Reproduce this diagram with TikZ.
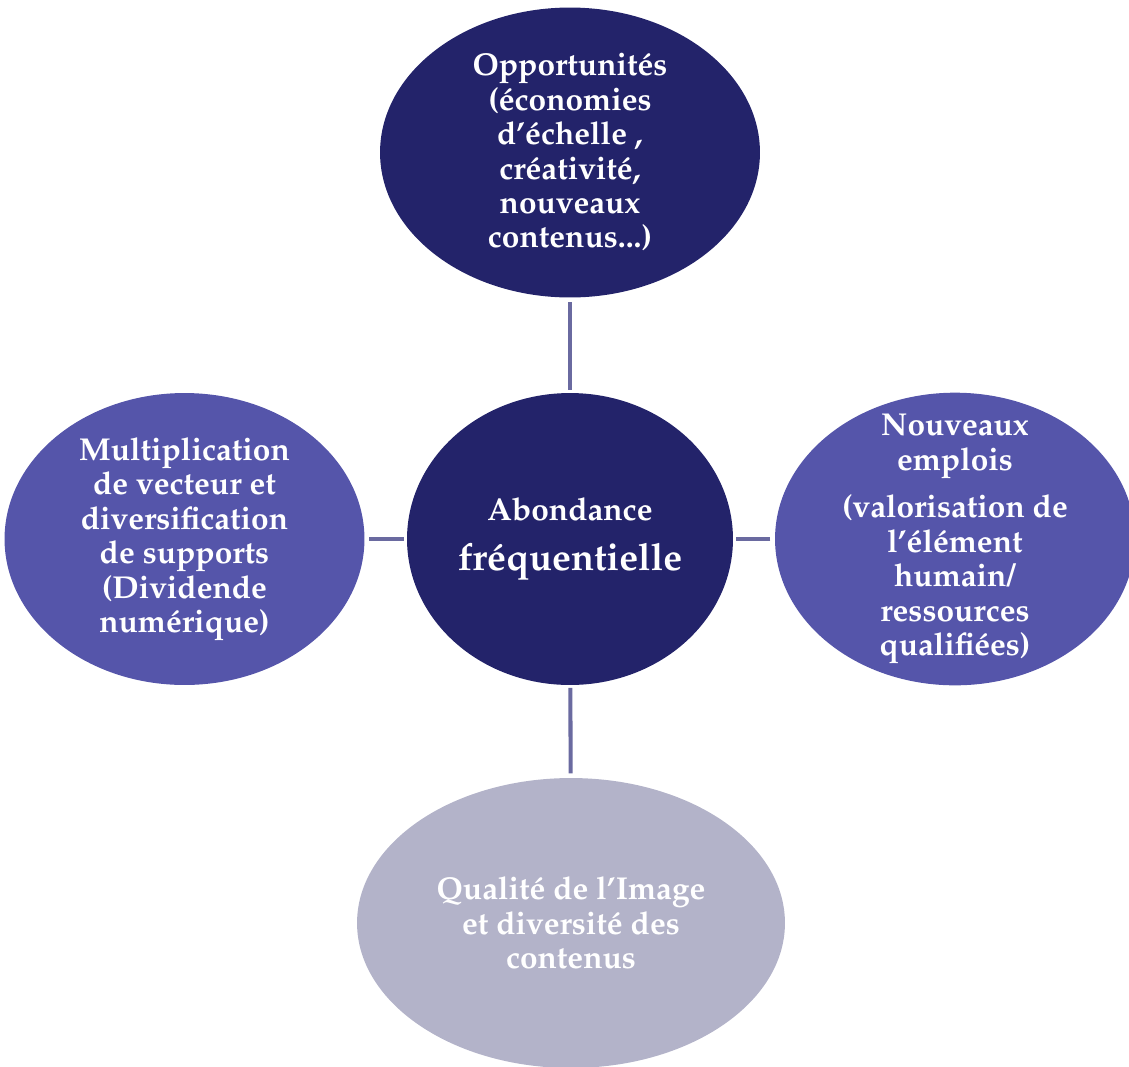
\documentclass[tikz,border=0pt]{standalone}
\usepackage[T1]{fontenc}
\usepackage{mathpazo}
\usetikzlibrary{shapes.geometric}
\definecolor{darkblob}{HTML}{23236A}
\definecolor{midblob}{HTML}{5555AA}
\definecolor{greyblob}{HTML}{B3B3C9}
\definecolor{linkcol}{HTML}{6A6AA0}
\tikzstyle{blob} = [ellipse, text=white, align=center, inner sep=-1.2em,
  font=\bfseries\fontsize{18}{19.6}\selectfont]
\tikzstyle{link} = [draw=linkcol, line width=2.3pt, shorten <=2.5pt, shorten >=1.5pt]

\begin{document}
\begin{tikzpicture}[x=0.02cm, y=-0.02cm]
  \clip (0,0) rectangle (1129,1066);
  \node (a) at (570,539) [blob, fill=darkblob, minimum width=6.52cm, minimum height=5.84cm]
    {Abondance\\[9pt]{\fontsize{21.5}{22}\selectfont fréquentielle}};
  \node (b) at (570,152.5) [blob, fill=darkblob, minimum width=7.6cm, minimum height=5.8cm]
    {Opportunités\\(économies\\d'échelle ,\\créativité,\\nouveaux\\contenus...)};
  \node (c) at (184.5,539) [blob, fill=midblob, minimum width=7.2cm, minimum height=5.84cm]
    {Multiplication\\de vecteur et\\diversification\\de supports\\(Dividende\\numérique)};
  \node (d) at (955,539) [blob, fill=midblob, minimum width=7.2cm, minimum height=5.84cm]
    {Nouveaux\\emplois\\[7.5pt](valorisation de\\l'élément\\humain/\\ressources\\qualifiées)};
  \node (e) at (571,923) [blob, fill=greyblob, minimum width=8.56cm, minimum height=5.8cm]
    {Qualité de l'Image\\et diversité des\\contenus};
  \draw [link] (b) -- (a);
  \draw [link] (c) -- (a);
  \draw [link] (d) -- (a);
  \draw [link] (e) -- (a);
\end{tikzpicture}
\end{document}
